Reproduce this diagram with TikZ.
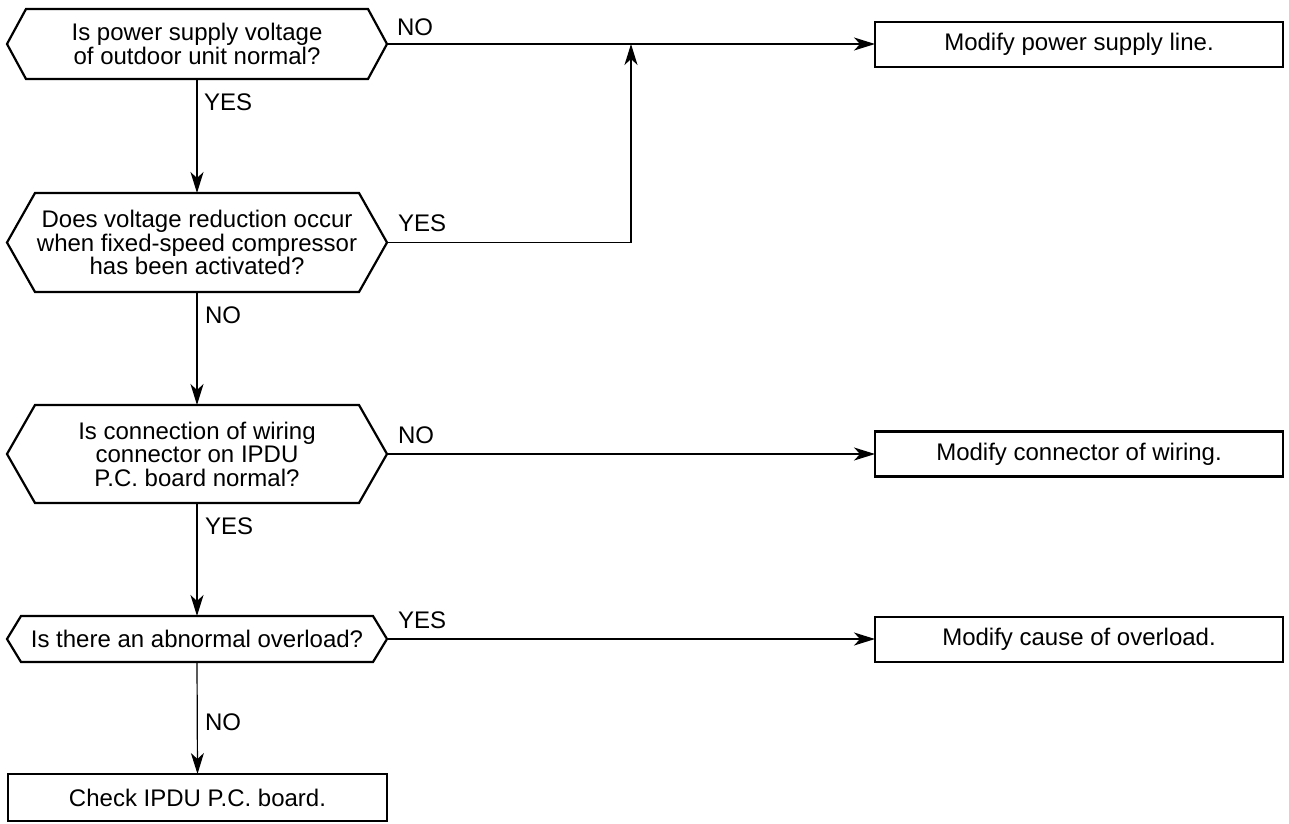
\documentclass[tikz,border=0pt]{standalone}
\usepackage{fontspec}
\setmainfont{Liberation Sans}
\usetikzlibrary{arrows.meta}
\newcommand\hexdraw[2]{\draw[shp] ([xshift=#2]#1.north west) -- ([xshift=-#2]#1.north east) -- (#1.east) -- ([xshift=-#2]#1.south east) -- ([xshift=#2]#1.south west) -- (#1.west) -- cycle;}
\begin{document}
\begin{tikzpicture}[x=1pt,y=-1pt,
  every node/.style={font=\fontsize{24}{23.5}\selectfont, inner sep=0pt, outer sep=0pt},
  hexn/.style={rectangle, align=center, minimum width=380pt},
  shp/.style={line width=2.2pt, line join=miter},
  boxn/.style={draw, line width=2.2pt, rectangle, align=center, minimum width=408pt, minimum height=45pt},
  lbl/.style={anchor=base west},
  conn/.style={line width=1.2pt},
  arr/.style={conn, -{Stealth[length=21pt, width=13pt, inset=6pt]}}
]
\useasboundingbox (0,0) rectangle (1289,823);

% decision nodes
\node[hexn, minimum height=70pt] (h1) at (197,44) {Is power supply voltage\\of outdoor unit normal?};
\hexdraw{h1}{19pt}
\node[hexn, minimum height=99pt] (h2) at (197,242.5) {Does voltage reduction occur\\when fixed-speed compressor\\has been activated?};
\hexdraw{h2}{28pt}
\node[hexn, minimum height=98pt] (h3) at (197,454) {Is connection of wiring\\connector on IPDU\\P.C. board normal?};
\hexdraw{h3}{28pt}
\node[hexn, minimum height=46pt] (h4) at (197,639) {Is there an abnormal overload?};
\hexdraw{h4}{14pt}

% action boxes
\node[boxn] (b1) at (1079,44.5) {Modify power supply line.};
\node[boxn] (b2) at (1079,454) {Modify connector of wiring.};
\node[boxn] (b3) at (1079,639.5) {Modify cause of overload.};
\node[boxn, minimum width=379pt, minimum height=47pt] (b4) at (197.5,797.5) {Check IPDU P.C. board.};

% connectors
\coordinate (j) at (631,44);
\draw[arr] (h1.east) -- (h1.east -| b1.west);
\draw[arr] (h2.east) -| (j);
\draw[arr] (h3.east) -- (h3.east -| b2.west);
\draw[arr] (h4.east) -- (h4.east -| b3.west);
\draw[arr] (h1.south) -- (h2.north);
\draw[arr] (h2.south) -- (h3.north);
\draw[arr] (h3.south) -- (h4.north);
\draw[arr] (h4.south) -- (b4.north);

% labels
\node[lbl] (l1) at (397,35) {NO};
\node[lbl] (l2) at (204,110) {YES};
\node[lbl] (l3) at (398,231) {YES};
\node[lbl] (l4) at (205,323) {NO};
\node[lbl] (l5) at (398,443) {NO};
\node[lbl] (l6) at (205,534) {YES};
\node[lbl] (l7) at (398,628) {YES};
\node[lbl] (l8) at (205,730) {NO};
\end{tikzpicture}
\end{document}
